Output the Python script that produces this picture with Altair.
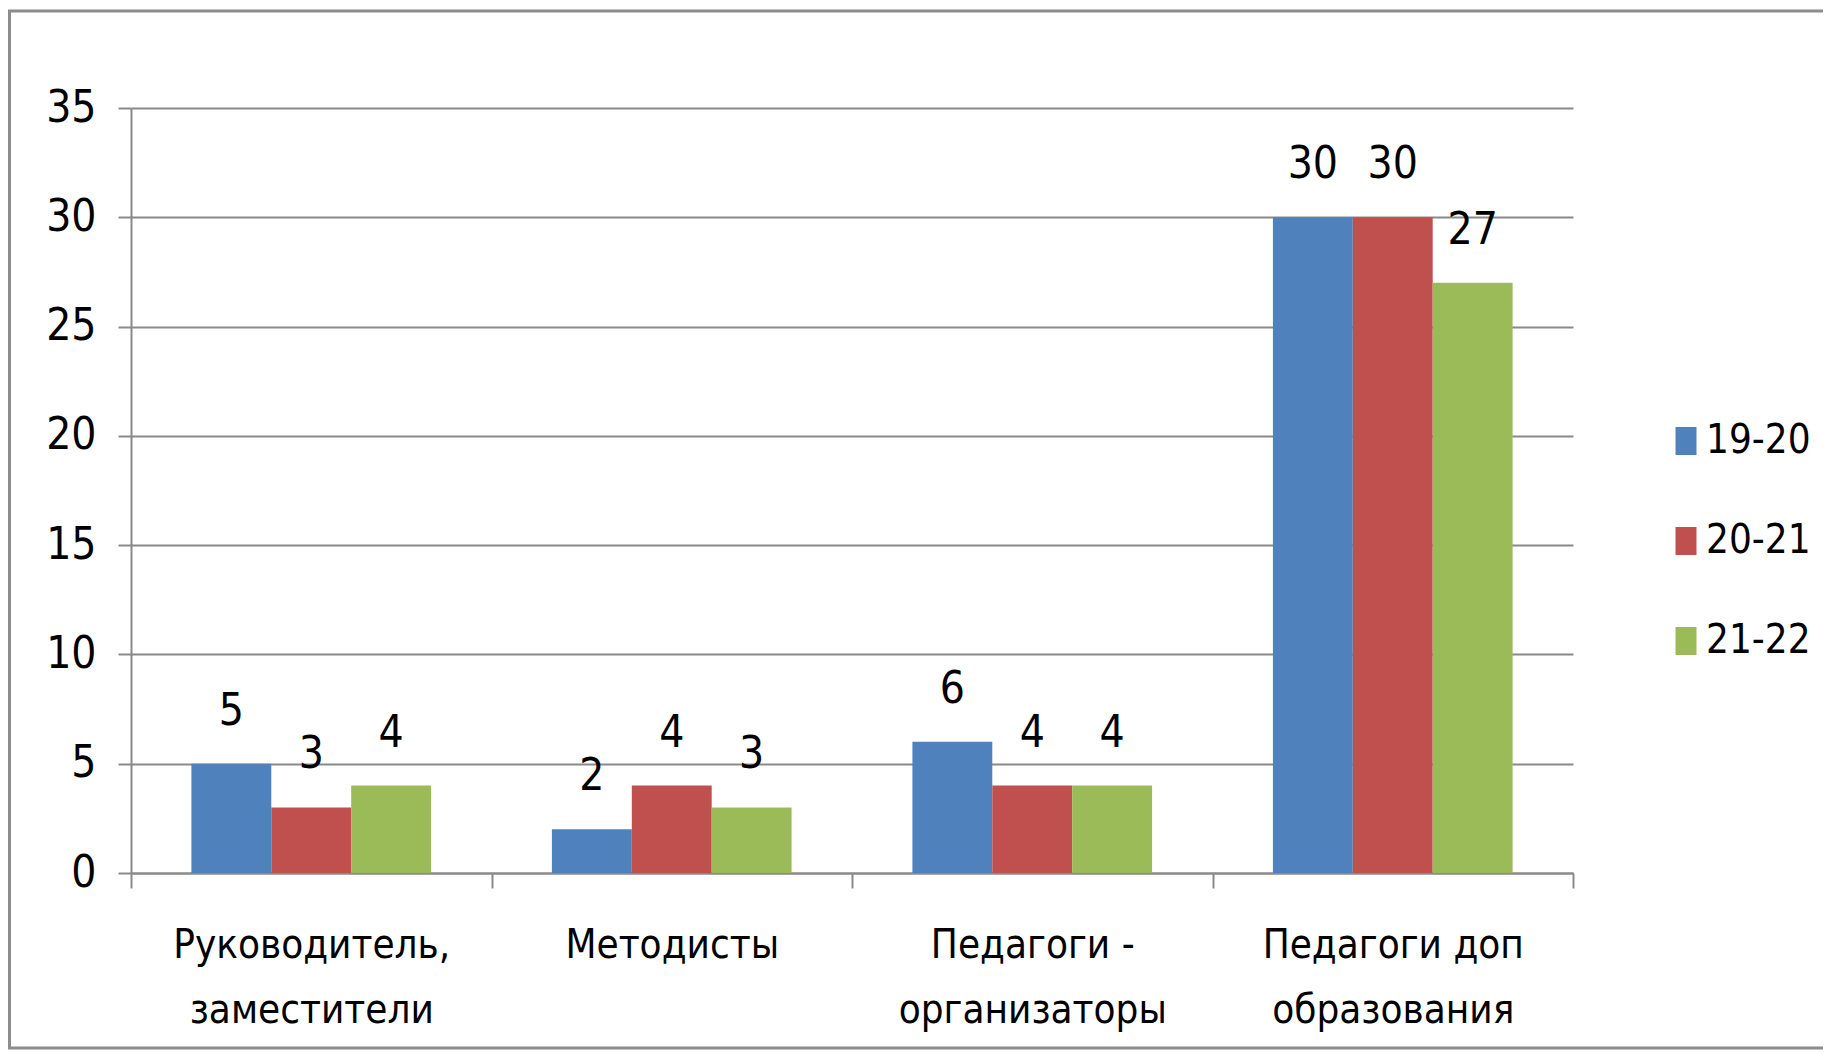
import altair as alt
import pandas as pd

categories = ["Руководитель,\nзаместители", "Методисты", "Педагоги -\nорганизаторы", "Педагоги доп\nобразования"]
series = ["19-20", "20-21", "21-22"]
values_1920 = [5, 2, 6, 30]
values_2021 = [3, 4, 4, 30]
values_2122 = [4, 3, 4, 27]
colors = ["#4F81BD", "#C0504D", "#9BBB59"]
y_ticks = [0, 5, 10, 15, 20, 25, 30, 35]

rows = []
for s, vals in zip(series, [values_1920, values_2021, values_2122]):
    for c, v in zip(categories, vals):
        rows.append({"cat": c, "series": s, "value": v})
df = pd.DataFrame(rows)

W, H = 1442, 765
FONT = "DejaVu Sans Condensed, Liberation Sans Narrow, Roboto"
GRID = "#8a8a8a"
FS = 44
FS_X = 40
FS_LEG = 40

x_enc = alt.X(
    "cat:N", sort=categories,
    scale=alt.Scale(paddingInner=0, paddingOuter=0),
    axis=alt.Axis(title=None, labelAngle=0, labelExpr="split(datum.label, '\\n')",
                  tickBand="extent", tickSize=15, tickColor=GRID, tickWidth=2,
                  domainColor=GRID, domainWidth=2, labelFontSize=FS_X, labelFont=FONT,
                  labelColor="#000000", labelPadding=37, labelLineHeight=65,
                  labelBaseline="top", labelLimit=400, grid=False),
)
xo_enc = alt.XOffset("series:N", sort=series, scale=alt.Scale(paddingOuter=0.756, paddingInner=0))
y_enc = alt.Y(
    "value:Q", scale=alt.Scale(domain=[0, 35], nice=False),
    axis=alt.Axis(title=None, values=y_ticks, grid=True, gridColor=GRID, gridWidth=2,
                  domainColor=GRID, domainWidth=2, tickColor=GRID, tickWidth=2, tickSize=13,
                  labelPadding=22, labelFontSize=FS, labelFont=FONT, labelColor="#000000"),
)
color_enc = alt.Color(
    "series:N", sort=series, scale=alt.Scale(domain=series, range=colors),
    legend=alt.Legend(title=None, orient="none", legendX=1535, legendY=313, offset=0,
                      symbolType="M-0.75,-1H0.75V1H-0.75Z", symbolSize=784,
                      symbolStrokeWidth=0, labelFontSize=FS_LEG, labelFont=FONT,
                      labelColor="#000000", labelOffset=0, rowPadding=60, padding=0,
                      labelLimit=300),
)

bars = alt.Chart(df).mark_bar(stroke=None).encode(x=x_enc, xOffset=xo_enc, y=y_enc, color=color_enc)
labels = alt.Chart(df).mark_text(baseline="alphabetic", dy=-39, fontSize=FS, font=FONT, color="#000000").encode(
    x=alt.X("cat:N", sort=categories), xOffset=alt.XOffset("series:N", sort=series), y="value:Q", text="value:Q"
)
border = alt.Chart(pd.DataFrame({"k": [0]})).mark_rect(filled=False, stroke="#8c8c8c", strokeWidth=3).encode(
    x=alt.value(-121.5), x2=alt.value(W + 400), y=alt.value(-97), y2=alt.value(940)
)

chart = alt.layer(border, bars, labels).properties(
    width=W, height=H,
    padding={"left": 123, "top": 100, "right": 250, "bottom": 177},
    autosize=alt.AutoSizeParams(type="none"),
    background="#ffffff",
).configure_view(stroke=None)

chart.save("out.html", embed_options={"renderer": "svg", "actions": False})
